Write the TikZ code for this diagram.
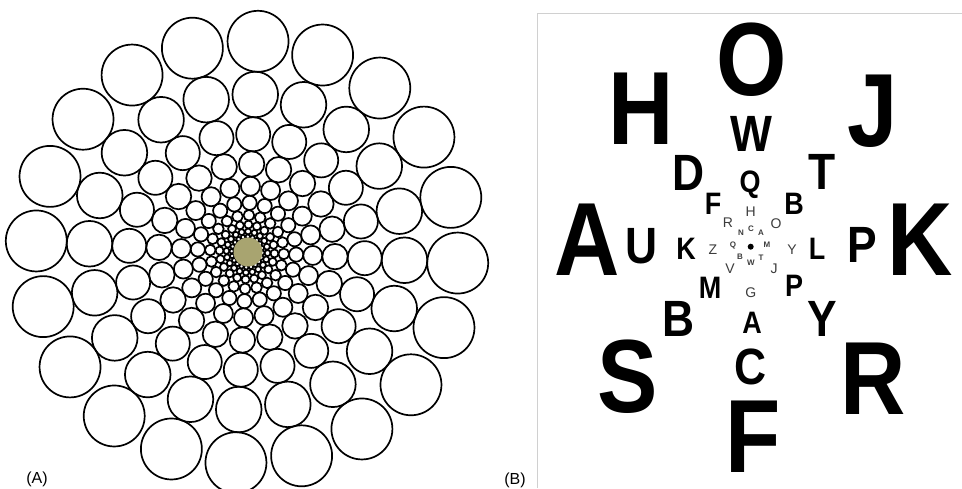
\documentclass[tikz,border=0pt]{standalone}
\usepackage{fontspec}
\usepackage{graphicx}
\setmainfont{Liberation Sans}
\definecolor{discol}{RGB}{168,164,112}
\definecolor{framecol}{RGB}{208,208,208}
\definecolor{smallcol}{RGB}{60,60,60}
\newcommand\nrw[1]{\scalebox{0.87}[1]{#1}}
\tikzset{
  ringcircle/.style={line width=1.7pt, draw=black},
  Lone/.style={inner sep=0pt, font=\bfseries\fontsize{104}{104}\selectfont},
  Ltwo/.style={inner sep=0pt, font=\bfseries\fontsize{51}{51}\selectfont},
  Lthree/.style={inner sep=0pt, font=\bfseries\fontsize{31}{31}\selectfont},
  Lfour/.style={inner sep=0pt, text=smallcol, font=\fontsize{14}{14}\selectfont},
  Lfive/.style={inner sep=0pt, text=smallcol, font=\bfseries\fontsize{8}{8}\selectfont},
  panellabel/.style={inner sep=0pt, font=\fontsize{16}{16}\selectfont}
}
\begin{document}
\begin{tikzpicture}[x=1pt,y=-1pt]
\useasboundingbox (0,0) rectangle (962,488);
% ---------- panel A : log-polar circles ----------
\foreach \n in {0,...,9}{
  \pgfmathsetmacro\R{211*0.7475^\n}
  \pgfmathsetmacro\r{0.1445*\R}
  \foreach \k in {0,...,19}{
    \draw[ringcircle] ({247+\R*sin(3+18*\k)},{252-\R*cos(3+18*\k)}) circle[radius=\r];
  }
}
\fill[discol] (248,252) circle[radius=14.5];
\node[panellabel] (labA) at (37,479) {(A)};
% ---------- panel B : letter chart ----------
\draw[framecol, line width=1.5pt] (537.5,488) -- (537.5,13.5) -- (962,13.5);
\node[panellabel] (labB) at (515,480) {(B)};
% ring 1
\node[Lone] (o1) at (752,60) {\nrw{O}};
\node[Lone] (h1) at (641.5,109) {\nrw{H}};
\node[Lone] (j1) at (873,111) {\nrw{J}};
\node[Lone] (a1) at (587,240) {\nrw{A}};
\node[Lone] (k1) at (920,240) {\nrw{K}};
\node[Lone] (s1) at (628,377) {\nrw{S}};
\node[Lone] (r1) at (873,379) {\nrw{R}};
\node[Lone] (f1) at (753,437) {\nrw{F}};
% ring 2
\node[Ltwo] (w2) at (751,134) {\nrw{W}};
\node[Ltwo] (d2) at (689,173) {\nrw{D}};
\node[Ltwo] (t2) at (822,172) {\nrw{T}};
\node[Ltwo] (u2) at (642,246) {\nrw{U}};
\node[Ltwo] (p2) at (862,245) {\nrw{P}};
\node[Ltwo] (b2) at (679,319) {\nrw{B}};
\node[Ltwo] (y2) at (822,319) {\nrw{Y}};
\node[Ltwo] (c2) at (751,367) {\nrw{C}};
% ring 3
\node[Lthree] (q3) at (750,185) {\nrw{Q}};
\node[Lthree] (f3) at (713,204) {\nrw{F}};
\node[Lthree] (b3) at (794,204) {\nrw{B}};
\node[Lthree] (k3) at (686,249) {\nrw{K}};
\node[Lthree] (l3) at (817,249) {\nrw{L}};
\node[Lthree] (m3) at (710,288) {\nrw{M}};
\node[Lthree] (p3) at (794,286) {\nrw{P}};
\node[Lthree] (a3) at (752,323) {\nrw{A}};
% ring 4
\node[Lfour] (h4) at (750.7,211.7) {H};
\node[Lfour] (r4) at (728,223) {R};
\node[Lfour] (o4) at (776,224) {O};
\node[Lfour] (z4) at (713,250) {Z};
\node[Lfour] (y4) at (792,250) {Y};
\node[Lfour] (v4) at (730,269) {V};
\node[Lfour] (j4) at (774,269) {J};
\node[Lfour] (g4) at (750.7,293) {G};
% ring 5
\node[Lfive] (c5) at (751,229) {C};
\node[Lfive] (n5) at (741,233) {N};
\node[Lfive] (a5) at (761,233) {A};
\node[Lfive] (q5) at (733,245) {Q};
\node[Lfive] (m5) at (767,245) {M};
\node[Lfive] (b5) at (740,257) {B};
\node[Lfive] (w5) at (751,263) {W};
\node[Lfive] (t5) at (761,258) {T};
% fixation dot
\fill (750.7,246.7) circle[radius=3];
\end{tikzpicture}
\end{document}
